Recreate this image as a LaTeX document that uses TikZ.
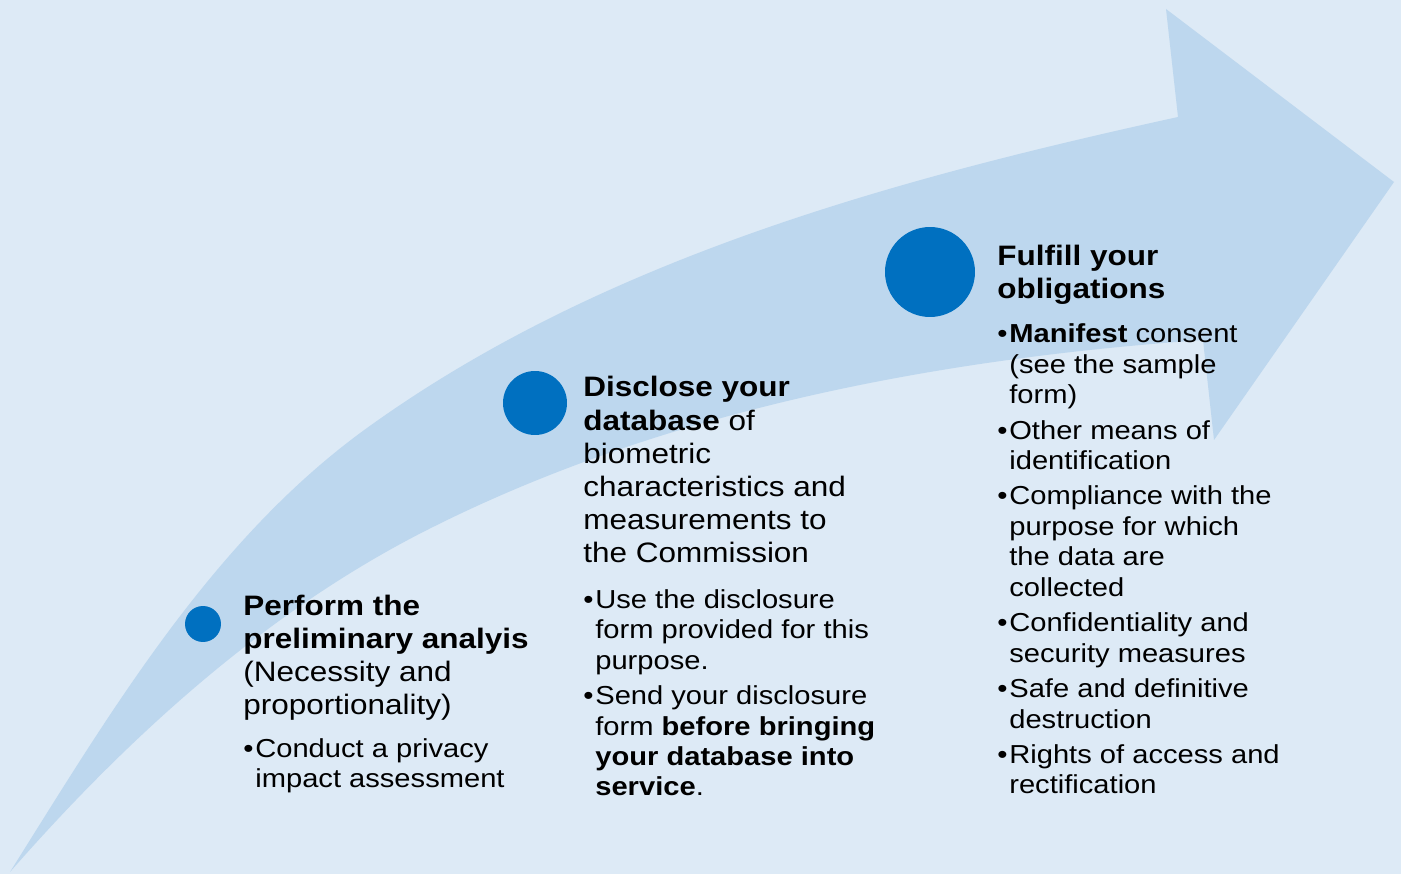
\documentclass[tikz,border=0pt]{standalone}
\usepackage{fontspec}
\setmainfont[FakeStretch=1.12]{Liberation Sans}
\usetikzlibrary{positioning}

\definecolor{pagebg}{RGB}{221,234,246}
\definecolor{arrowblue}{RGB}{189,215,238}
\definecolor{dotblue}{RGB}{0,112,192}

\newcommand\headsize{\fontsize{16}{18.9}\selectfont}
\newcommand\itemsize{\fontsize{14.8}{17.35}\selectfont}
\newcommand\itm{\makebox[0.24cm][l]{\textbullet}}
\newcommand\ind{\hspace*{0.24cm}}

\begin{document}
\begin{tikzpicture}[x=0.02cm, y=-0.02cm,
    head/.style={anchor=base west, align=left, inner sep=0pt, font=\headsize},
    items/.style={anchor=base west, align=left, inner sep=0pt, font=\itemsize},
    dot/.style={circle, fill=dotblue, inner sep=0pt}]
  \useasboundingbox (0,0) rectangle (1401,874);
  \fill[pagebg] (0,0) rectangle (1401,874);

  % the rising arrow
  \fill[arrowblue] (10,872)
    .. controls (111,711) and (213,539) .. (367,428)
    .. controls (602,258.5) and (895,179) .. (1178,117)
    -- (1166,9) -- (1394,182) -- (1214,440) -- (1203,340)
    .. controls (940,358.5) and (669,409) .. (433,527)
    .. controls (270,608) and (130,735) .. (10,872) -- cycle;

  \node[dot, minimum size=0.72cm] (dotone) at (203,624) {};
  \node[dot, minimum size=1.28cm] (dottwo) at (535,403) {};
  \node[dot, minimum size=1.8cm] (dotthree) at (930,272) {};

  % step 1 (nodes sit on the baseline of their last line)
  \node[head] (perform) at (243,715) {\textbf{Perform the}\\ \textbf{preliminary analyis}\\ (Necessity and\\ proportionality)};
  \node[items] (performlist) at (243,788) {\itm Conduct a privacy\\ \ind impact assessment};

  % step 2
  \node[head] (disclose) at (583,563) {\textbf{Disclose your}\\ \textbf{database} of\\ biometric\\ characteristics and\\ measurements to\\ the Commission};
  \node[items] (discloselist) at (583,796) {\itm Use the disclosure\\ \ind form provided for this\\ \ind purpose.\\[2.8pt]
    \itm Send your disclosure\\ \ind form \textbf{before bringing}\\ \ind\textbf{your database into}\\ \ind\textbf{service}.};

  % step 3
  \node[head] (fulfill) at (997,299) {\textbf{Fulfill your}\\ \textbf{obligations}};
  \node[items] (fulfilllist) at (997,794) {\itm\textbf{Manifest} consent\\ \ind(see the sample\\ \ind form)\\[2.8pt]
    \itm Other means of\\ \ind identification\\[2.8pt]
    \itm Compliance with the\\ \ind purpose for which\\ \ind the data are\\ \ind collected\\[2.8pt]
    \itm Confidentiality and\\ \ind security measures\\[2.8pt]
    \itm Safe and definitive\\ \ind destruction\\[2.8pt]
    \itm Rights of access and\\ \ind rectification};
\end{tikzpicture}
\end{document}
